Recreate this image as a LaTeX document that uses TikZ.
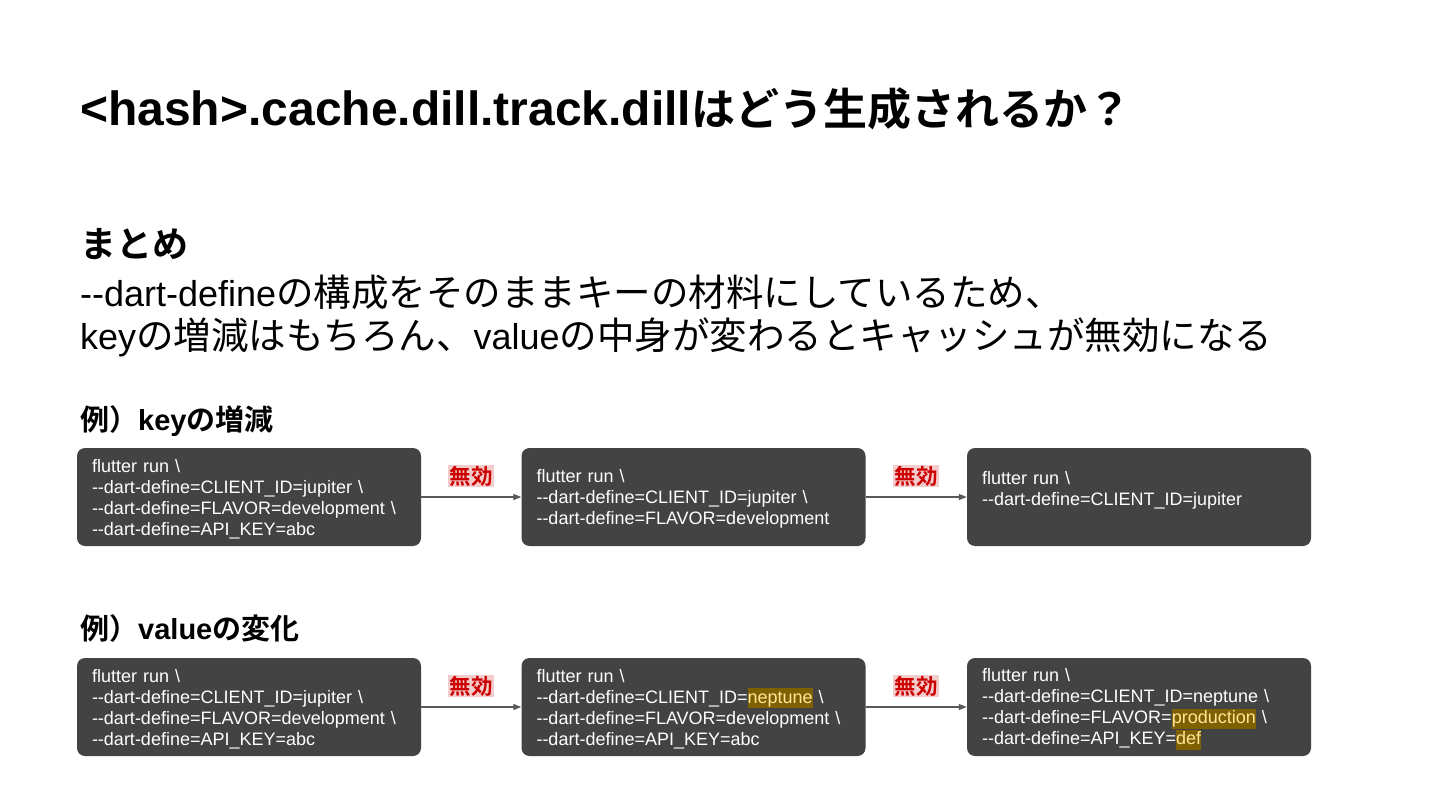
\documentclass[tikz,border=0pt]{standalone}
\usepackage{fontspec}
\usepackage{xcolor}
\usetikzlibrary{arrows.meta, positioning}
\newfontfamily\arfont{Liberation Sans}
\newfontfamily\jpfont{Noto Sans CJK JP}[BoldFont={Noto Sans CJK JP Bold}]
\definecolor{BoxGray}{HTML}{434343}
\definecolor{HiBack}{HTML}{7F6000}
\definecolor{HiText}{HTML}{FFE599}
\definecolor{BadRed}{HTML}{CC0000}
\definecolor{BadPink}{HTML}{F4CCCC}
\definecolor{ArrGray}{HTML}{595959}
\newcommand{\bsl}{\textbackslash}
\newcommand{\hival}[1]{{\setlength{\fboxsep}{0pt}\colorbox{HiBack}{\rule[-5pt]{0pt}{20pt}\textcolor{HiText}{#1}}}}
\newcommand{\jp}[1]{{\jpfont\fontsize{37.5}{37.5}\selectfont #1}}
\newcommand{\jpb}[1]{{\jpfont #1}}

\begin{document}
\begin{tikzpicture}[x=1pt, y=-1pt,
        cmd/.style={fill=BoxGray, rounded corners=8pt, text=white,
                    font=\arfont\fontsize{18}{21}\selectfont,
                    text width=314pt, align=left, inner xsep=15pt,
                    inner ysep=0pt, minimum height=98pt,
                    execute at begin node={\rule{0pt}{17pt}}},
        bad/.style={fill=BadPink, text=BadRed,
                    font=\jpfont\bfseries\fontsize{21.5}{21.5}\selectfont,
                    inner xsep=1.5pt, inner ysep=1pt},
        head/.style={anchor=base west, inner sep=0pt},
        arr/.style={draw=ArrGray, line width=1.2pt,
                    -{Triangle[length=8pt,width=6pt]}}
      ]
        \fill[white] (0,0) rectangle (1440,810);
        \useasboundingbox (0,0) rectangle (1440,810);
        % headings
        \node[head, font=\arfont\bfseries\fontsize{48}{48}\selectfont] (title) at (80,126)
          {<hash>.cache.dill.track.dill{\jpfont\fontsize{44}{44}\selectfont はどう生成されるか？}};
        \node[head, font=\jpfont\bfseries\fontsize{36}{36}\selectfont] (sum) at (80,258) {まとめ};
        \node[head, font=\arfont\fontsize{36}{36}\selectfont] (sumA) at (80,307)
          {--dart-define\jp{の構成をそのままキーの材料にしているため、}};
        \node[head, font=\arfont\fontsize{36}{36}\selectfont] (sumB) at (80,349)
          {key\jp{の増減はもちろん、}value\jp{の中身が変わるとキャッシュが無効になる}};
        \node[head, font=\arfont\bfseries\fontsize{29}{29}\selectfont] (exA) at (80,430)
          {\jpb{例）}key\jpb{の増減}};
        \node[head, font=\arfont\bfseries\fontsize{29}{29}\selectfont] (exB) at (80,639)
          {\jpb{例）}value\jpb{の変化}};
        % key rows
        \node[cmd] (k1) at (249,497) {flutter run \bsl\\
          --dart-define=CLIENT\_ID=jupiter \bsl\\
          --dart-define=FLAVOR=development \bsl\\
          --dart-define=API\_KEY=abc};
        \node[cmd] (k2) at (693.5,497) {flutter run \bsl\\
          --dart-define=CLIENT\_ID=jupiter \bsl\\
          --dart-define=FLAVOR=development};
        \node[cmd] (k3) at (1139,497) {flutter run \bsl\\
          --dart-define=CLIENT\_ID=jupiter\\ \mbox{}};
        % value rows
        \node[cmd] (v1) at (249,707) {flutter run \bsl\\
          --dart-define=CLIENT\_ID=jupiter \bsl\\
          --dart-define=FLAVOR=development \bsl\\
          --dart-define=API\_KEY=abc};
        \node[cmd] (v2) at (693.5,707) {flutter run \bsl\\
          --dart-define=CLIENT\_ID=\hival{neptune} \bsl\\
          --dart-define=FLAVOR=development \bsl\\
          --dart-define=API\_KEY=abc};
        \node[cmd] (v3) at (1139,707) {flutter run \bsl\\
          --dart-define=CLIENT\_ID=neptune \bsl\\
          --dart-define=FLAVOR=\hival{production} \bsl\\
          --dart-define=API\_KEY=\hival{def}};
        \draw[arr] (k1) -- node[bad, above=9pt] {無効} (k2);
        \draw[arr] (k2) -- node[bad, above=9pt] {無効} (k3);
        \draw[arr] (v1) -- node[bad, above=9pt] {無効} (v2);
        \draw[arr] (v2) -- node[bad, above=9pt] {無効} (v3);
      \end{tikzpicture}
\end{document}
